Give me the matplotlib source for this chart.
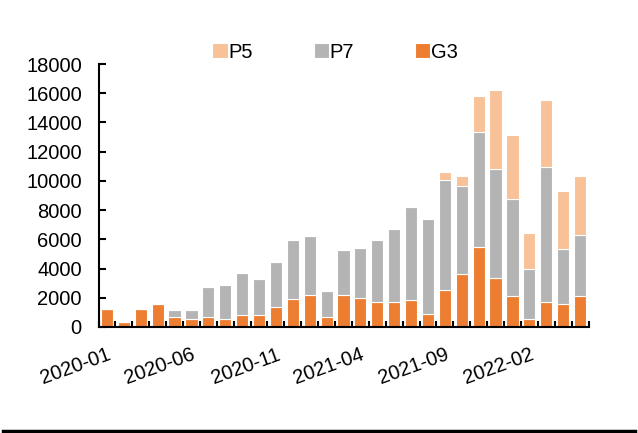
import matplotlib
matplotlib.use("Agg")
import matplotlib.pyplot as plt
from matplotlib.lines import Line2D
import numpy as np

# monthly categories 2020-01 .. 2022-05
months = ['2020-01', '2020-02', '2020-03', '2020-04', '2020-05', '2020-06',
          '2020-07', '2020-08', '2020-09', '2020-10', '2020-11', '2020-12',
          '2021-01', '2021-02', '2021-03', '2021-04', '2021-05', '2021-06',
          '2021-07', '2021-08', '2021-09', '2021-10', '2021-11', '2021-12',
          '2022-01', '2022-02', '2022-03', '2022-04', '2022-05']

g3 = [1250, 350, 1250, 1550, 660, 550, 660, 550, 820, 820, 1340, 1890, 2160,
      680, 2160, 2000, 1700, 1700, 1840, 900, 2530, 3620, 5480, 3320, 2120,
      520, 1730, 1590, 2120]
p7 = [0, 0, 0, 0, 500, 610, 2070, 2320, 2870, 2460, 3120, 4050, 4050,
      1800, 3140, 3410, 4240, 5030, 6370, 6490, 7510, 6000, 7900, 7510, 6660,
      3480, 9210, 3730, 4160]
p5 = [0, 0, 0, 0, 0, 0, 0, 0, 0, 0, 0, 0, 0,
      0, 0, 0, 0, 0, 0, 0, 590, 730, 2460, 5390, 4370,
      2460, 4600, 3960, 4050]

label_every = 5

c_g3 = '#ED7D31'
c_p7 = '#B4B4B4'
c_p5 = '#F8C197'

plt.rcParams['font.family'] = ['Liberation Sans', 'DejaVu Sans']
fs = 14.5

fig = plt.figure(figsize=(6.38, 4.33), dpi=100)
ax = fig.add_axes([98.5 / 638, 1 - 327 / 433, 490 / 638, 263 / 433])

x = np.arange(len(months))
g3 = np.array(g3)
p7 = np.array(p7)
p5 = np.array(p5)
w = 0.72
ax.bar(x, g3, width=w, color=c_g3, edgecolor='white', linewidth=0.8, label='G3')
ax.bar(x, p7, width=w, bottom=g3, color=c_p7, edgecolor='white', linewidth=0.8, label='P7')
ax.bar(x, p5, width=w, bottom=g3 + p7, color=c_p5, edgecolor='white', linewidth=0.8, label='P5')

ax.set_xlim(-0.5, len(months) - 0.5)
ax.set_ylim(0, 18000)
ax.set_yticks(range(0, 18001, 2000))
ax.tick_params(axis='y', direction='in', length=5, width=1.5, labelsize=fs, pad=12)

ax.set_xticks(x[::label_every])
ax.set_xticklabels(months[::label_every], rotation=20, ha='right',
                   rotation_mode='anchor', fontsize=fs)
ax.tick_params(axis='x', which='major', length=0, pad=13)
ax.set_xticks(np.arange(-0.5, len(months), 1), minor=True)
ax.tick_params(axis='x', which='minor', direction='in', length=4, width=1.5)

for s in ['top', 'right']:
    ax.spines[s].set_visible(False)
for s in ['left', 'bottom']:
    ax.spines[s].set_linewidth(1.5)

handles, labels = ax.get_legend_handles_labels()
ax.legend(handles[::-1], labels[::-1], loc='center', ncol=3,
          bbox_to_anchor=(335 / 638, 1 - 52 / 433), bbox_transform=fig.transFigure,
          frameon=False, fontsize=fs, handlelength=0.75, handleheight=0.75,
          handletextpad=0.05, columnspacing=3.0, borderpad=0)

fig.add_artist(Line2D([0.005, 0.995], [1 - 430.5 / 433] * 2,
                      transform=fig.transFigure, color='black', linewidth=2.5))

fig.savefig('out.png', dpi=100)
